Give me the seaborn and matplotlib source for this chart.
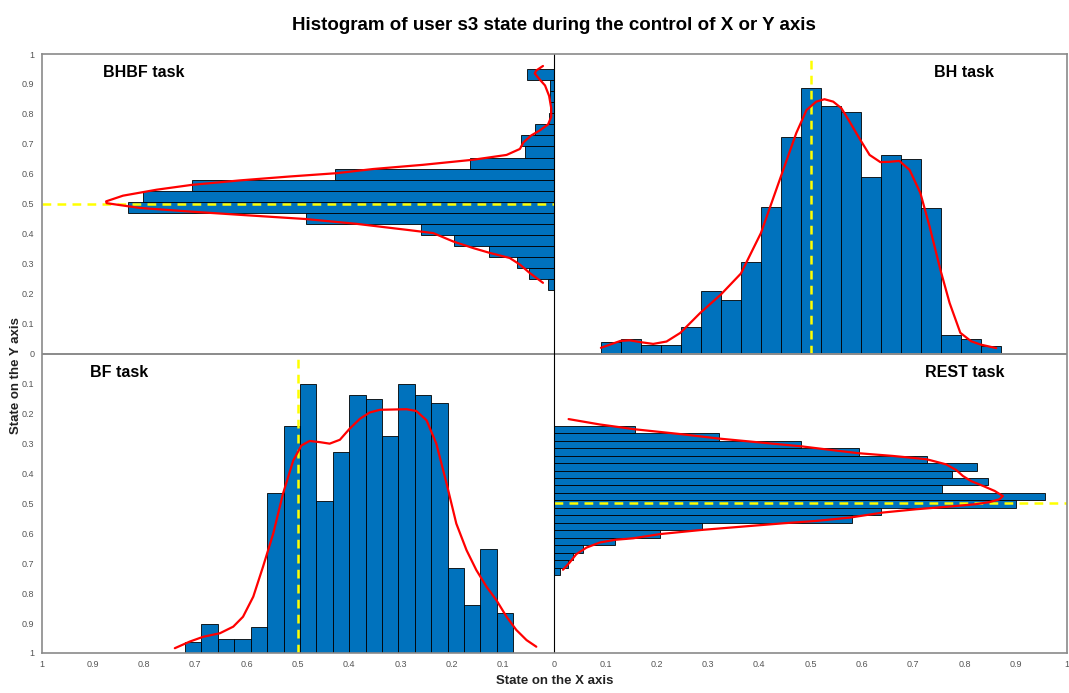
import numpy as np
import pandas as pd
import matplotlib
matplotlib.use("Agg")
import matplotlib.pyplot as plt
import seaborn as sns

# ---------------- data ----------------
# BH task (top-right): state on the X axis, bar heights
bh_range = (0.0906, 0.871)
bh_heights = [0.040, 0.049, 0.028, 0.030, 0.089, 0.210, 0.177, 0.306, 0.489, 0.724,
              0.886, 0.828, 0.806, 0.589, 0.662, 0.650, 0.486, 0.062, 0.047, 0.026]
bh_curve_state = [0.091, 0.129, 0.147, 0.168, 0.193, 0.219, 0.246, 0.285, 0.325, 0.364,
                  0.403, 0.442, 0.472, 0.492, 0.511, 0.527, 0.544, 0.560, 0.576, 0.597,
                  0.615, 0.636, 0.654, 0.673, 0.693, 0.714, 0.732, 0.753, 0.771, 0.792,
                  0.813, 0.831, 0.862]
bh_curve_val = [0.019, 0.042, 0.044, 0.038, 0.032, 0.040, 0.069, 0.136, 0.197, 0.267,
                0.402, 0.591, 0.736, 0.813, 0.841, 0.849, 0.841, 0.819, 0.774, 0.713,
                0.663, 0.639, 0.640, 0.643, 0.613, 0.536, 0.424, 0.280, 0.169, 0.069,
                0.041, 0.030, 0.018]

# BF task (bottom-left): state on the X axis (0.08 -> 0.72), bar heights
bf_range = (0.080, 0.720)
bf_heights = [0.133, 0.347, 0.159, 0.284, 0.836, 0.862, 0.898, 0.723, 0.848, 0.862,
              0.671, 0.509, 0.898, 0.759, 0.534, 0.086, 0.046, 0.046, 0.097, 0.036]
bf_curve_state = [0.740, 0.711, 0.685, 0.652, 0.626, 0.607, 0.587, 0.568, 0.548, 0.529,
                  0.509, 0.493, 0.477, 0.457, 0.438, 0.418, 0.399, 0.379, 0.360, 0.340,
                  0.314, 0.288, 0.269, 0.249, 0.230, 0.210, 0.191, 0.171, 0.152, 0.132,
                  0.113, 0.093, 0.074, 0.054, 0.035]
bf_curve_val = [0.016, 0.038, 0.054, 0.066, 0.088, 0.121, 0.188, 0.288, 0.399, 0.532,
                0.643, 0.693, 0.708, 0.704, 0.699, 0.712, 0.749, 0.782, 0.803, 0.812,
                0.813, 0.814, 0.808, 0.777, 0.699, 0.566, 0.432, 0.343, 0.277, 0.221,
                0.177, 0.121, 0.077, 0.043, 0.021]

# BHBF task (top-left): state on the Y axis (0.211 -> 0.95), bar lengths
bhbf_range = (0.211, 0.950)
bhbf_widths = [0.012, 0.050, 0.072, 0.127, 0.195, 0.260, 0.485, 0.832, 0.803, 0.707,
               0.427, 0.165, 0.058, 0.064, 0.037, 0.010, 0.009, 0.008, 0.009, 0.053]
bhbf_curve_val = [0.022, 0.035, 0.038, 0.030, 0.018, 0.010, 0.006, 0.006, 0.012, 0.028,
                  0.045, 0.060, 0.067, 0.093, 0.158, 0.256, 0.353, 0.425, 0.516, 0.613,
                  0.707, 0.775, 0.841, 0.874, 0.873, 0.853, 0.808, 0.711, 0.613, 0.485,
                  0.386, 0.288, 0.236, 0.197, 0.158, 0.126, 0.087, 0.067, 0.048, 0.022]
bhbf_curve_state = [0.960, 0.945, 0.935, 0.918, 0.895, 0.860, 0.820, 0.790, 0.765, 0.745,
                    0.728, 0.705, 0.683, 0.663, 0.647, 0.630, 0.616, 0.602, 0.591, 0.578,
                    0.563, 0.547, 0.527, 0.508, 0.502, 0.497, 0.486, 0.474, 0.463, 0.449,
                    0.433, 0.413, 0.402, 0.374, 0.352, 0.336, 0.319, 0.297, 0.269, 0.236]

# REST task (bottom-right): state on the Y axis (0.241 -> 0.74), bar lengths
rest_range = (0.241, 0.740)
rest_widths = [0.157, 0.321, 0.482, 0.594, 0.726, 0.825, 0.775, 0.845, 0.757, 0.957,
               0.901, 0.638, 0.581, 0.288, 0.206, 0.119, 0.057, 0.037, 0.026, 0.012]
rest_curve_val = [0.028, 0.089, 0.157, 0.251, 0.321, 0.407, 0.482, 0.544, 0.594, 0.660,
                  0.726, 0.764, 0.784, 0.797, 0.813, 0.836, 0.859, 0.875, 0.868, 0.849,
                  0.823, 0.771, 0.706, 0.641, 0.576, 0.511, 0.446, 0.381, 0.288, 0.206,
                  0.154, 0.119, 0.089, 0.063, 0.043, 0.030, 0.017]
rest_curve_state = [0.219, 0.237, 0.253, 0.270, 0.284, 0.298, 0.310, 0.323, 0.333, 0.342,
                    0.353, 0.370, 0.389, 0.409, 0.426, 0.442, 0.459, 0.476, 0.487, 0.496,
                    0.503, 0.511, 0.520, 0.531, 0.548, 0.559, 0.567, 0.576, 0.589, 0.603,
                    0.617, 0.622, 0.631, 0.648, 0.670, 0.698, 0.722]

reference_state = 0.5
task_names = ["BHBF task", "BH task", "BF task", "REST task"]
title = "Histogram of user s3 state during the control of X or Y axis"
xlabel = "State on the X axis"
ylabel = "State on the Y axis"
tick_values = [round(v, 1) for v in np.arange(-1.0, 1.0001, 0.1)]
tick_labels = [f"{abs(v):g}" for v in tick_values]

# ---------------- style ----------------
sns.set_style("white")
plt.rcParams["font.family"] = ["Liberation Sans", "DejaVu Sans"]
plt.rcParams["text.color"] = "black"
BLUE = "#0072BD"
RED = "#FF0000"
YELLOW = "#FFFF00"
GREY = "#8a8a8a"

fig = plt.figure(figsize=(10.69, 6.93), dpi=100)
fig.patch.set_facecolor("white")

L, B, W, H = 41.5 / 1069, 40 / 693, (1067 - 41.5) / 1069, (653 - 54) / 693
hw, hh = W / 2, H / 2

main = fig.add_axes([L, B, W, H], zorder=5)
main.patch.set_alpha(0)
main.set_xlim(-1, 1)
main.set_ylim(-1, 1)
main.set_xticks(tick_values)
main.set_xticklabels(tick_labels)
main.set_yticks(tick_values)
main.set_yticklabels(tick_labels)
main.tick_params(length=0, labelsize=6.5, labelcolor="#555555", pad=5)
for s in main.spines.values():
    s.set_color(GREY)
    s.set_linewidth(1.2)
main.axhline(0, color=GREY, lw=1.4)
main.axvline(0, color="black", lw=0.8)
main.set_xlabel(xlabel, fontsize=9.5, fontweight="bold", color="#222222")
main.xaxis.set_label_coords(0.5, -0.036)
main.set_ylabel(ylabel, fontsize=9.5, fontweight="bold", color="#222222")
main.yaxis.set_label_coords(-0.019, 0.464)
fig.suptitle(title, x=L + W / 2, y=0.975, fontsize=13.5, fontweight="bold", color="black")

ax_tl = fig.add_axes([L, B + hh, hw, hh], zorder=1)
ax_tr = fig.add_axes([L + hw, B + hh, hw, hh], zorder=1)
ax_bl = fig.add_axes([L, B, hw, hh], zorder=1)
ax_br = fig.add_axes([L + hw, B, hw, hh], zorder=1)

bar_kw = dict(stat="count", color=BLUE, edgecolor="black", linewidth=0.6, alpha=1.0)
line_kw = dict(color=RED, linewidth=1.6, sort=False, estimator=None, legend=False)


def hist_frame(rng, values):
    e = np.linspace(rng[0], rng[1], len(values) + 1)
    df = pd.DataFrame({"state": (e[:-1] + e[1:]) / 2, "w": values})
    return df, list(e)


def dashed_ref(ax, vertical):
    if vertical:
        ax.axvline(reference_state, color=YELLOW, lw=1.8, dashes=(3.5, 2.5))
    else:
        ax.axhline(reference_state, color=YELLOW, lw=1.8, dashes=(3.5, 2.5))


# BHBF (top-left): horizontal bars toward the left
df, e = hist_frame(bhbf_range, bhbf_widths)
sns.histplot(data=df, y="state", weights="w", bins=e, ax=ax_tl, **bar_kw)
dashed_ref(ax_tl, False)
sns.lineplot(x=bhbf_curve_val, y=bhbf_curve_state, ax=ax_tl, **line_kw)
ax_tl.set_xlim(1, 0)
ax_tl.set_ylim(0, 1)

# BH (top-right): vertical bars upward
df, e = hist_frame(bh_range, bh_heights)
sns.histplot(data=df, x="state", weights="w", bins=e, ax=ax_tr, **bar_kw)
dashed_ref(ax_tr, True)
sns.lineplot(x=bh_curve_state, y=bh_curve_val, ax=ax_tr, **line_kw)
ax_tr.set_xlim(0, 1)
ax_tr.set_ylim(0, 1)

# BF (bottom-left): vertical bars rising from the bottom
df, e = hist_frame(bf_range, bf_heights)
sns.histplot(data=df, x="state", weights="w", bins=e, ax=ax_bl, **bar_kw)
dashed_ref(ax_bl, True)
sns.lineplot(x=bf_curve_state, y=bf_curve_val, ax=ax_bl, **line_kw)
ax_bl.set_xlim(1, 0)
ax_bl.set_ylim(0, 1)

# REST (bottom-right): horizontal bars toward the right
df, e = hist_frame(rest_range, rest_widths)
sns.histplot(data=df, y="state", weights="w", bins=e, ax=ax_br, **bar_kw)
dashed_ref(ax_br, False)
sns.lineplot(x=rest_curve_val, y=rest_curve_state, ax=ax_br, **line_kw)
ax_br.set_xlim(0, 1)
ax_br.set_ylim(1, 0)

for a in (ax_tl, ax_tr, ax_bl, ax_br):
    a.axis("off")
    a.patch.set_visible(False)

# task labels (placed in main-axes data coordinates)
lab_kw = dict(fontsize=11.5, fontweight="bold", va="center", color="black")
main.text(-0.88, 0.937, task_names[0], ha="left", **lab_kw)
main.text(0.80, 0.937, task_names[1], ha="center", **lab_kw)
main.text(-0.905, -0.063, task_names[2], ha="left", **lab_kw)
main.text(0.80, -0.063, task_names[3], ha="center", **lab_kw)

fig.savefig("out.png", dpi=100, facecolor="white")
